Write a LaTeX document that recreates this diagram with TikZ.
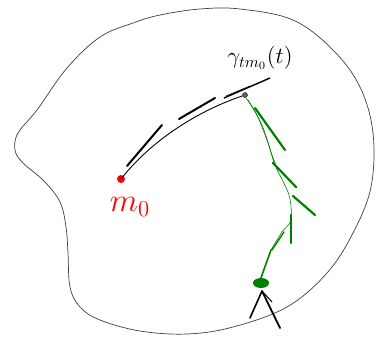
\documentclass[tikz,border=0pt]{standalone}
\usetikzlibrary{arrows.meta,shapes.geometric}
\begin{document}
\begin{tikzpicture}[x=1pt,y=-1pt,
 outline/.style={draw=black!75, line width=0.7pt},
 geo/.style={draw=black, line width=0.9pt},
 geodash/.style={draw=black, line width=2pt, line cap=round},
 gpath/.style={draw=green!50!black, line width=0.6pt},
 gdash/.style={draw=green!50!black, line width=2.2pt, line cap=round},
 gcol/.style={green!50!black},
 ]
\useasboundingbox (0,0) rectangle (384,338);
\fill[white] (0,0) rectangle (384,338);
% region outline
\draw[outline] plot[smooth cycle, tension=0.6] coordinates {
 (240,9) (293,20) (333,50) (360,87) (373,133) (371,187) (353,233) (327,273)
 (287,307) (233,327) (187,334) (140,331) (100,320) (80,307) (70,287) (68,253)
 (66,227) (60,202) (44,181) (23,163) (15,150) (18,133) (37,110) (67,68)
 (100,37) (133,23) (160,15) (200,9)};
% points
\node[circle, fill=red, inner sep=0pt, minimum size=8pt] (m0) at (121,179) {};
\node[red, font=\LARGE, scale=1.9] (m0lab) at (130,207) {$m_0$};
\node[circle, draw=black, fill=black!60, inner sep=0pt, minimum size=5pt] (p) at (245,95) {};
\node[font=\Large, scale=1.6] (glab) at (260,58) {$\gamma_{t m_0}(t)$};
% black geodesic
\draw[geo] (m0.center) .. controls (150,142) and (195,112) .. (p);
\coordinate (d1a) at (127,166); \coordinate (d1b) at (162,125);
\coordinate (d2a) at (179,119); \coordinate (d2b) at (215,98);
\coordinate (d3a) at (224,98);  \coordinate (d3b) at (270,78);
\draw[geodash] (d1a) -- (d1b);
\draw[geodash] (d2a) -- (d2b);
\draw[geo, line width=1.4pt] (d3a) -- (d3b);
\draw[geo, line width=0.6pt] (226,96) -- (250,86);
% green path
\node[gcol, fill=green!50!black, ellipse, inner sep=0pt, minimum width=16pt, minimum height=10pt] (gb) at (261,283) {};
\draw[gpath] plot[smooth, tension=0.5] coordinates {(246,98) (257,115) (268,143) (275,165) (289,195) (291,220) (282,232) (271,250)};
\draw[gpath] plot[smooth, tension=0.5] coordinates {(248,100) (262,125) (272,155) (277,168)};
\draw[gdash, line width=1.6pt] (271,250) -- (gb.north);
\draw[gdash] (255,108) -- (285,150);
\draw[gdash] (273,163) -- (296,187);
\draw[gdash] (293,196) -- (315,215);
\draw[gdash] (291,215) -- (291,243);
\draw[gdash, line width=1.3pt] (284,232) -- (272,250);
% black arrow
\coordinate (atail) at (280,328);
\coordinate (atip) at (262,291);
\draw[draw=black, line width=1.8pt, line cap=round] (atail) -- (atip);
\draw[draw=black, line width=1.6pt, line cap=round] (atip) -- (250,318);
\draw[draw=black, line width=1.0pt, line cap=round] (atip) -- (272,302);
\end{tikzpicture}
\end{document}
